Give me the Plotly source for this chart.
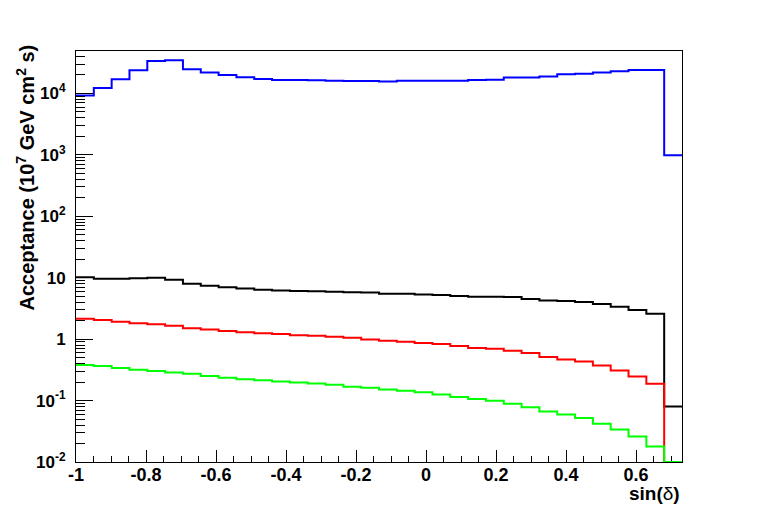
import numpy as np
import plotly.graph_objects as go

# Binning: sin(declination) from -1 to sin(47 deg), 34 bins
x_min = -1.0
x_max = 0.7314
n_bins = 34
bin_edges = np.linspace(x_min, x_max, n_bins + 1)

blue_vals = [9200, 12250, 17000, 23800, 33700, 34600, 24700, 21800, 19950, 18300,
             17200, 16500, 16500, 16300, 16100, 15900, 15900, 15550, 16100, 16100,
             16100, 16100, 16500, 16700, 18100, 18100, 18800, 20500, 20950, 21800,
             22900, 24000, 24000, 980]
black_vals = [10.2, 9.62, 9.62, 9.8, 9.95, 9.26, 7.95, 7.4, 7.0, 6.65,
              6.35, 6.2, 6.1, 6.0, 5.91, 5.8, 5.76, 5.48, 5.48, 5.35,
              5.21, 5.02, 4.9, 4.9, 4.84, 4.49, 4.24, 4.16, 4.01, 3.72,
              3.37, 2.97, 2.59, 0.08]
red_vals = [2.15, 2.04, 1.92, 1.82, 1.74, 1.65, 1.51, 1.44, 1.35, 1.30,
            1.25, 1.21, 1.16, 1.135, 1.093, 1.053, 0.99, 0.94, 0.906, 0.868,
            0.83, 0.77, 0.715, 0.697, 0.647, 0.592, 0.51, 0.467, 0.433, 0.373,
            0.309, 0.247, 0.1875, 0.01]
green_vals = [0.378, 0.364, 0.338, 0.317, 0.302, 0.287, 0.273, 0.25, 0.235, 0.223,
              0.215, 0.205, 0.197, 0.19, 0.181, 0.168, 0.161, 0.152, 0.144, 0.136,
              0.126, 0.114, 0.1065, 0.099, 0.0886, 0.0781, 0.0665, 0.0594, 0.0518, 0.0418,
              0.0338, 0.026, 0.0179, 0.01]

y_tickvals = [0.01, 0.1, 1, 10, 100, 1000, 10000]
y_ticktext = ["10<sup>-2</sup>", "10<sup>-1</sup>", "1", "10",
              "10<sup>2</sup>", "10<sup>3</sup>", "10<sup>4</sup>"]
x_tickvals = [-1, -0.8, -0.6, -0.4, -0.2, 0, 0.2, 0.4, 0.6]
x_ticktext = ["-1", "-0.8", "-0.6", "-0.4", "-0.2", "0", "0.2", "0.4", "0.6"]

FONT = "Liberation Sans, Arial, Helvetica, sans-serif"

fig = go.Figure()
series = [(blue_vals, "#0000ff"), (black_vals, "#000000"),
          (red_vals, "#ff0000"), (green_vals, "#00ff00")]
for vals, color in series:
    fig.add_trace(go.Scatter(
        x=bin_edges, y=list(vals) + [vals[-1]], mode="lines",
        line=dict(color=color, width=2, shape="hv"),
        showlegend=False, hoverinfo="skip"))

y_minor = [m * 10.0 ** k for k in range(-2, 5) for m in range(2, 10)]

fig.update_layout(
    width=758, height=514,
    margin=dict(l=68, r=84, t=43, b=60, autoexpand=False),
    paper_bgcolor="white", plot_bgcolor="white",
    font=dict(family=FONT, size=18, color="black"),
    xaxis=dict(
        range=[x_min, x_max], showgrid=False, zeroline=False,
        showline=True, linecolor="black", linewidth=1, mirror=True,
        layer="below traces",
        ticks="inside", ticklen=12, tickcolor="black", tickwidth=1,
        tickvals=x_tickvals, ticktext=["<b>%s</b>" % t for t in x_ticktext],
        tickfont=dict(family=FONT, size=18, color="black"),
        ticklabelstandoff=-4,
        minor=dict(ticks="inside", ticklen=6, tickcolor="black",
                   tick0=-1, dtick=0.05, showgrid=False),
    ),
    yaxis=dict(
        type="log", range=[-2, 4.69], showgrid=False, zeroline=False,
        showline=True, linecolor="black", linewidth=1, mirror=True,
        ticks="inside", ticklen=17, tickcolor="black", tickwidth=1,
        tickvals=y_tickvals, ticktext=["<b>%s</b>" % t for t in y_ticktext],
        tickfont=dict(family=FONT, size=17, color="black"),
        ticklabelstandoff=6,
        minor=dict(ticks="inside", ticklen=9, tickcolor="black",
                   tickvals=y_minor, showgrid=False),
    ),
    annotations=[
        dict(text="<b>Acceptance (10<sup>7</sup> GeV cm<sup>2</sup> s)</b>",
             xref="paper", yref="paper", x=-0.084, y=1.021,
             xanchor="center", yanchor="top", textangle=-90, showarrow=False,
             font=dict(family=FONT, size=20, color="black")),
        dict(text="<b>sin(</b>δ<b>)</b>",
             xref="paper", yref="paper", x=1.0, y=-0.0767,
             xanchor="right", yanchor="middle", showarrow=False,
             font=dict(family=FONT, size=19, color="black")),
    ],
)

fig.write_html("out.html")
